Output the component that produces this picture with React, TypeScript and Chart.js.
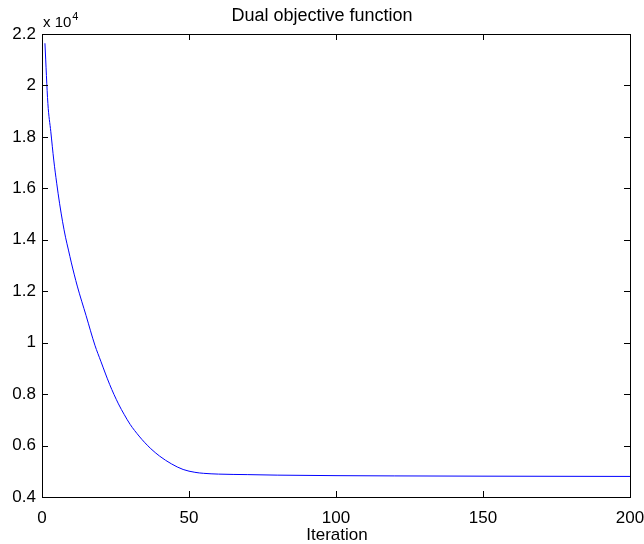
import React, { useEffect, useRef } from "react";
import { Chart, registerables } from "chart.js";

Chart.register(...registerables);

const iterations = [1, 2, 3, 4, 5, 6, 7, 8, 9, 10, 12, 15, 18, 20, 23, 26, 28, 30, 33, 35, 37, 40, 44, 48, 52, 55, 60, 70, 80, 100, 120, 150, 200];
const dualObjective = [21640, 19300, 18200, 17100, 16200, 15400, 14700, 14100, 13600, 13100, 12200, 11050, 9900, 9280, 8380, 7620, 7200, 6820, 6370, 6110, 5880, 5590, 5290, 5070, 4960, 4920, 4890, 4870, 4850, 4830, 4820, 4810, 4800];
const xTicks = [0, 50, 100, 150, 200];
const yTicks = [4000, 6000, 8000, 10000, 12000, 14000, 16000, 18000, 20000, 22000];
const titleText = "Dual objective function";
const xLabel = "Iteration";
const exponentBase = "x 10";
const exponent = "4";

const FONT = "'Liberation Sans', Arial, Helvetica, sans-serif";

const boxPlugin = {
  id: "matlabBox",
  afterDraw(chart: any) {
    const { ctx, chartArea } = chart;
    const { left, right, top, bottom } = chartArea;
    const xs = chart.scales.x;
    const ys = chart.scales.y;
    const L = 6;
    ctx.save();
    ctx.strokeStyle = "#000";
    ctx.lineWidth = 1;
    ctx.beginPath();
    xTicks.forEach((t) => {
      const px = Math.round(xs.getPixelForValue(t)) + 0.5;
      ctx.moveTo(px, bottom);
      ctx.lineTo(px, bottom - L);
      ctx.moveTo(px, top);
      ctx.lineTo(px, top + L);
    });
    yTicks.forEach((t) => {
      const py = Math.round(ys.getPixelForValue(t)) + 0.5;
      ctx.moveTo(left, py);
      ctx.lineTo(left + L, py);
      ctx.moveTo(right, py);
      ctx.lineTo(right - L, py);
    });
    ctx.stroke();
    ctx.strokeRect(Math.round(left) + 0.5, Math.round(top) + 0.5, Math.round(right - left), Math.round(bottom - top));

    ctx.fillStyle = "#000";
    ctx.textAlign = "center";
    ctx.textBaseline = "alphabetic";
    ctx.font = `18px ${FONT}`;
    ctx.fillText(titleText, 322, 21);
    ctx.font = `17px ${FONT}`;
    ctx.fillText(xLabel, 337, 540);
    ctx.textAlign = "left";
    ctx.font = `15px ${FONT}`;
    ctx.fillText(exponentBase, 43, 27);
    const w = ctx.measureText(exponentBase).width;
    ctx.font = `11px ${FONT}`;
    ctx.fillText(exponent, 43 + w + 1, 20);
    ctx.restore();
  },
};

export default function App() {
  const ref = useRef<HTMLCanvasElement>(null);
  useEffect(() => {
    if (!ref.current) return;
    const data = iterations.map((x, i) => ({ x, y: dualObjective[i] }));
    const chart = new Chart(ref.current, {
      type: "line",
      data: {
        datasets: [
          {
            data,
            borderColor: "#0000ff",
            borderWidth: 1,
            pointRadius: 0,
            fill: false,
            cubicInterpolationMode: "monotone",
          },
        ],
      },
      options: {
        animation: false,
        responsive: false,
        devicePixelRatio: 1,
        layout: { padding: { top: 34, right: 14, left: 0, bottom: 0 } },
        plugins: { legend: { display: false }, title: { display: false }, tooltip: { enabled: false } },
        scales: {
          x: {
            type: "linear",
            min: 0,
            max: 200,
            afterBuildTicks: (s: any) => {
              s.ticks = xTicks.map((v) => ({ value: v }));
            },
            afterFit: (s: any) => {
              s.height = 47;
              s.paddingLeft = 0;
              s.paddingRight = 0;
            },
            grid: { display: false, drawTicks: false },
            border: { display: false },
            ticks: {
              padding: 11,
              color: "#000",
              maxRotation: 0,
              autoSkip: false,
              font: { family: FONT, size: 17 },
              callback: (v: any) => String(v),
            },
          },
          y: {
            type: "linear",
            min: 4000,
            max: 22000,
            afterBuildTicks: (s: any) => {
              s.ticks = yTicks.map((v) => ({ value: v }));
            },
            afterFit: (s: any) => {
              s.width = 42;
              s.paddingTop = 0;
              s.paddingBottom = 0;
            },
            grid: { display: false, drawTicks: false },
            border: { display: false },
            ticks: {
              padding: 6,
              color: "#000",
              autoSkip: false,
              font: { family: FONT, size: 17 },
              callback: (v: any) => String(Number((v / 10000).toFixed(1))),
            },
          },
        },
      },
      plugins: [boxPlugin],
    } as any);
    return () => chart.destroy();
  }, []);
  return (
    <div style={{ position: "fixed", left: 0, top: 0, width: 644, height: 544, background: "#fff" }}>
      <canvas ref={ref} width={644} height={544} style={{ width: 644, height: 544, display: "block" }} />
    </div>
  );
}
